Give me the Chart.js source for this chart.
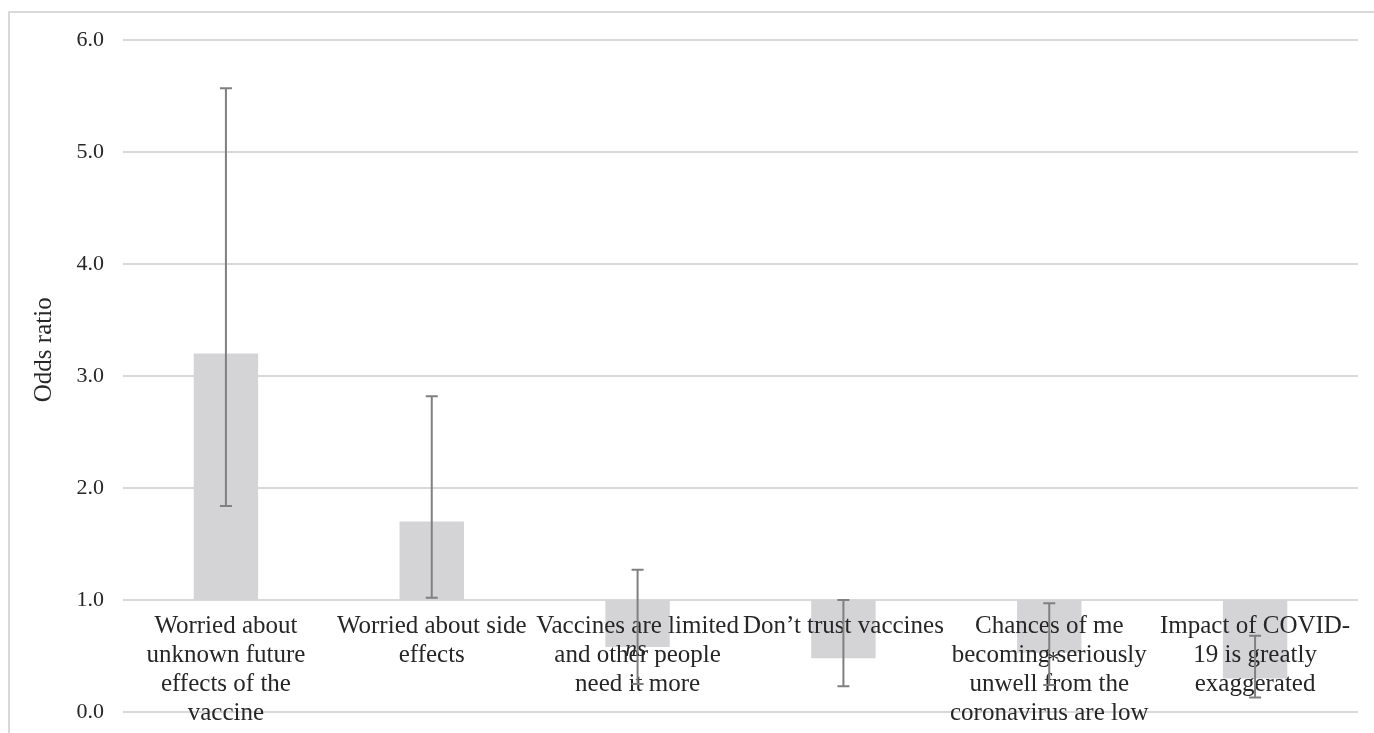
<!DOCTYPE html>
<html>
<head>
<meta charset="utf-8">
<script src="https://cdn.jsdelivr.net/npm/chart.js@4"></script>
<style>
  html, body { margin: 0; padding: 0; background: #ffffff; }
  #wrap { position: relative; width: 1374px; height: 733px; }
</style>
</head>
<body>
<div id="wrap"><canvas id="c" width="1374" height="733"></canvas></div>
<script>
// ---- data ----
const categories = [
  ["Worried about", "unknown future", "effects of the", "vaccine"],
  ["Worried about side", "effects"],
  ["Vaccines are limited", "and other people", "need it more"],
  ["Don\u2019t trust vaccines"],
  ["Chances of me", "becoming seriously", "unwell from the", "coronavirus are low"],
  ["Impact of COVID-", "19 is greatly", "exaggerated"]
];
const oddsRatio = [3.20, 1.70, 0.58, 0.48, 0.53, 0.30];
const ciLower   = [1.84, 1.02, 0.25, 0.23, 0.24, 0.13];
const ciUpper   = [5.57, 2.82, 1.27, 1.00, 0.97, 0.68];
const sigMarks  = ["", "", "ns", "", "*", ""];
const baseline = 1.0;
const yTicks = [0, 1, 2, 3, 4, 5, 6];
const yTitle = 'Odds ratio';

const SERIF = "'Liberation Serif', 'DejaVu Serif', serif";
const TEXT = '#262626';
const GRID = '#d9d9d9';

const frame = {
  id: 'frame',
  beforeDraw(chart) {
    const ctx = chart.ctx;
    ctx.save();
    ctx.strokeStyle = GRID;
    ctx.lineWidth = 2;
    ctx.strokeRect(9, 12, 3000, 3000);
    ctx.restore();
  }
};

const axisTitle = {
  id: 'axisTitle',
  afterDraw(chart) {
    const ctx = chart.ctx;
    const area = chart.chartArea;
    ctx.save();
    ctx.translate(44, area.top + (area.bottom - area.top) * 0.461);
    ctx.rotate(-Math.PI / 2);
    ctx.fillStyle = TEXT;
    ctx.font = '25px ' + SERIF;
    ctx.textAlign = 'center';
    ctx.textBaseline = 'middle';
    ctx.fillText(yTitle, 0, 0);
    ctx.restore();
  }
};

const errorBars = {
  id: 'errorBars',
  afterDraw(chart) {
    const ctx = chart.ctx;
    const x = chart.scales.x, y = chart.scales.y;
    ctx.save();
    ctx.strokeStyle = '#808080';
    ctx.lineWidth = 2;
    categories.forEach((c, i) => {
      const px = x.getPixelForValue(i);
      const yl = y.getPixelForValue(ciLower[i]);
      const yh = y.getPixelForValue(ciUpper[i]);
      ctx.beginPath();
      ctx.moveTo(px, yl); ctx.lineTo(px, yh);
      ctx.moveTo(px - 6, yl); ctx.lineTo(px + 6, yl);
      ctx.moveTo(px - 6, yh); ctx.lineTo(px + 6, yh);
      ctx.stroke();
    });
    ctx.fillStyle = TEXT;
    ctx.textAlign = 'center';
    ctx.textBaseline = 'middle';
    sigMarks.forEach((m, i) => {
      if (!m) return;
      const px = x.getPixelForValue(i);
      const py = y.getPixelForValue(oddsRatio[i]);
      ctx.font = (m === 'ns' ? 'italic ' : '') + '24px ' + SERIF;
      ctx.fillText(m, px + (m === '*' ? 4 : -2), py + (m === '*' ? 8 : 3));
    });
    ctx.restore();
  }
};

new Chart(document.getElementById('c'), {
  type: 'bar',
  data: {
    labels: categories,
    datasets: [{
      label: 'Odds ratio',
      data: oddsRatio.map(v => [baseline, v]),
      backgroundColor: '#d4d4d6',
      borderWidth: 0,
      borderSkipped: false,
      barPercentage: 0.313,
      categoryPercentage: 1.0
    }]
  },
  options: {
    responsive: false,
    animation: false,
    devicePixelRatio: 1,
    layout: { padding: { top: 40, right: 16, bottom: 21, left: 0 } },
    plugins: { legend: { display: false }, tooltip: { enabled: false } },
    scales: {
      x: {
        position: { y: baseline },
        afterFit(scale) {
          scale.paddingTop = 0; scale.paddingBottom = 0;
          scale.paddingLeft = 0; scale.paddingRight = 0;
        },
        grid: { display: false, drawTicks: false },
        border: { display: false },
        ticks: {
          z: 1,
          autoSkip: false, maxRotation: 0, minRotation: 0,
          padding: 12,
          color: TEXT,
          font: { family: SERIF, size: 25, lineHeight: 1.16 }
        }
      },
      y: {
        min: 0, max: 6,
        afterBuildTicks(scale) { scale.ticks = yTicks.map(v => ({ value: v })); },
        afterFit(scale) {
          scale.width = 123;
          scale.paddingTop = 0; scale.paddingBottom = 0;
        },
        grid: { color: GRID, lineWidth: 2, drawTicks: false },
        border: { display: false },
        ticks: {
          padding: 19,
          color: TEXT,
          font: { family: SERIF, size: 22 },
          callback: v => Number(v).toFixed(1)
        },
        title: { display: false }
      }
    }
  },
  plugins: [frame, axisTitle, errorBars]
});
</script>
</body>
</html>
